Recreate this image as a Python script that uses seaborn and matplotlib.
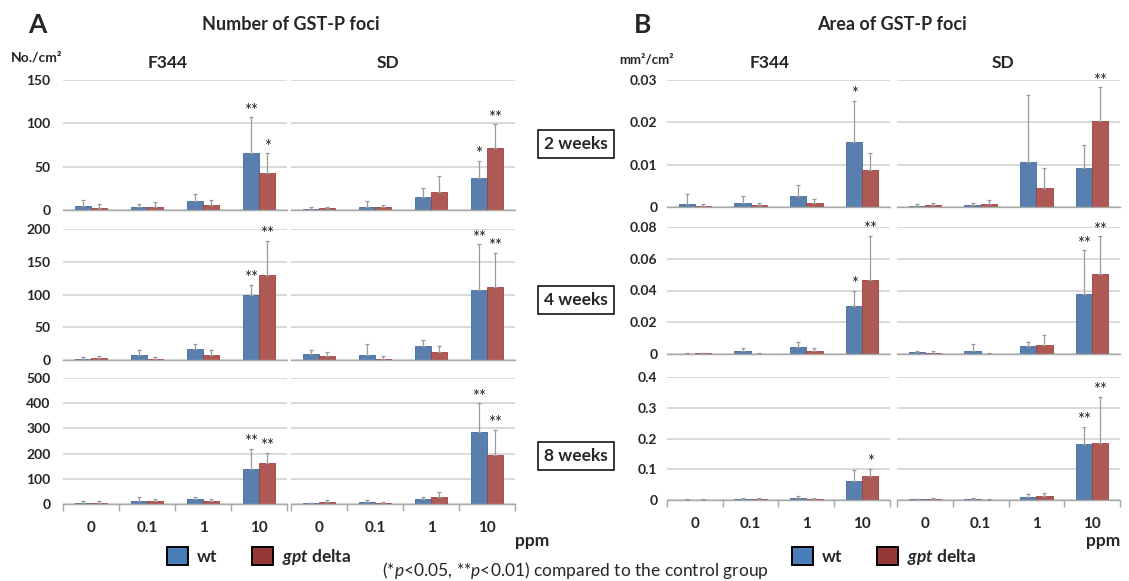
import numpy as np
import pandas as pd
import matplotlib
matplotlib.use("Agg")
import matplotlib.pyplot as plt
from matplotlib.patches import Patch
import seaborn as sns

sns.set_theme(style="white")
plt.rcParams["font.family"] = ["Lato", "DejaVu Sans"]
plt.rcParams.update({
    "mathtext.fontset": "custom",
    "mathtext.rm": "Lato",
    "mathtext.it": "Lato:italic",
    "mathtext.sf": "Lato:italic:bold",
})

W, H = 1129, 581

DOSES = ["0", "0.1", "1", "10"]
STRAINS = ["F344", "SD"]
WEEKS = ["2 weeks", "4 weeks", "8 weeks"]
GENOTYPES = ["wt", "gpt delta"]

# each row: F344 doses 0/0.1/1/10, then SD doses 0/0.1/1/10
# A: number of GST-P foci (No./cm2)
NUM_WT = [
    [5, 4, 10, 66, 1, 4, 15, 37],
    [2, 8, 17, 98.5, 9, 8, 21, 107.6],
    [5, 12, 21, 140, 2, 6, 18, 284],
]
NUM_WT_SD = [
    [6, 3, 9, 41, 3, 6, 10, 20],
    [2, 8, 8, 16, 7, 16, 9, 69],
    [7, 16, 6, 80, 3, 9, 10, 116],
]
NUM_GPT = [
    [2, 3, 6, 42.5, 2, 3, 20.5, 72],
    [3, 2, 8, 130, 6, 2, 12, 112],
    [3, 12, 12, 164, 8, 3, 28, 193],
]
NUM_GPT_SD = [
    [5, 6, 5, 23, 2, 3, 18.5, 27],
    [3, 3, 8, 52, 6, 4.5, 10, 52],
    [7, 8, 8, 38, 7, 4, 18, 101],
]
NUM_WT_SIG = [
    ["", "", "", "**", "", "", "", "*"],
    ["", "", "", "**", "", "", "", "**"],
    ["", "", "", "**", "", "", "", "**"],
]
NUM_GPT_SIG = [
    ["", "", "", "*", "", "", "", "**"],
    ["", "", "", "**", "", "", "", "**"],
    ["", "", "", "**", "", "", "", "**"],
]

# B: area of GST-P foci (mm2/cm2)
AREA_WT = [
    [0.0008, 0.001, 0.0025, 0.0153, 0.0002, 0.0005, 0.0106, 0.0091],
    [0.0003, 0.0017, 0.0044, 0.0302, 0.001, 0.0017, 0.0048, 0.0381],
    [0.001, 0.003, 0.008, 0.061, 0.002, 0.003, 0.01, 0.181],
]
AREA_WT_SD = [
    [0.0022, 0.0015, 0.0028, 0.0098, 0.0004, 0.0004, 0.0159, 0.0055],
    [0.0003, 0.0023, 0.0029, 0.0096, 0.001, 0.0048, 0.0029, 0.0271],
    [0.002, 0.003, 0.005, 0.036, 0.002, 0.004, 0.008, 0.058],
]
AREA_GPT = [
    [0.0002, 0.0004, 0.0009, 0.0087, 0.0005, 0.0006, 0.0045, 0.0204],
    [0.0005, 0.0003, 0.0017, 0.0465, 0.0008, 0.0003, 0.0057, 0.0504],
    [0.001, 0.003, 0.003, 0.077, 0.003, 0.001, 0.014, 0.184],
]
AREA_GPT_SD = [
    [0.0004, 0.0006, 0.0009, 0.0041, 0.0004, 0.001, 0.0046, 0.0079],
    [0.0003, 0.0002, 0.0023, 0.0281, 0.001, 0.0002, 0.0061, 0.0237],
    [0.002, 0.002, 0.002, 0.024, 0.002, 0.002, 0.01, 0.151],
]
AREA_WT_SIG = [
    ["", "", "", "*", "", "", "", ""],
    ["", "", "", "*", "", "", "", "**"],
    ["", "", "", "", "", "", "", "**"],
]
AREA_GPT_SIG = [
    ["", "", "", "", "", "", "", "**"],
    ["", "", "", "**", "", "", "", "**"],
    ["", "", "", "*", "", "", "", "**"],
]

NUM_YTICKS = [[0, 50, 100, 150], [0, 50, 100, 150, 200], [0, 100, 200, 300, 400, 500]]
NUM_YLABELS = [["0", "50", "100", "150"], ["0", "50", "100", "150", "200"],
               ["0", "100", "200", "300", "400", "500"]]
AREA_YTICKS = [[0, 0.01, 0.02, 0.03], [0, 0.02, 0.04, 0.06, 0.08], [0, 0.1, 0.2, 0.3, 0.4]]
AREA_YLABELS = [["0", "0.01", "0.02", "0.03"], ["0", "0.02", "0.04", "0.06", "0.08"],
                ["0", "0.1", "0.2", "0.3", "0.4"]]

BLUE = "#4A7EBB"
RED = "#BE4B48"
PALETTE = {"wt": BLUE, "gpt delta": RED}

fig = plt.figure(figsize=(W / 100, H / 100), dpi=100)


def px_axes(x0, y0, x1, y1):
    return fig.add_axes([x0 / W, 1 - y1 / H, (x1 - x0) / W, (y1 - y0) / H])


def draw_cell(ax, wt, wt_sd, gpt, gpt_sd, wt_sig, gpt_sig, yticks, ylabels,
              show_y, bottom, ypad):
    df = pd.DataFrame({
        "dose": DOSES * 2,
        "genotype": ["wt"] * 4 + ["gpt delta"] * 4,
        "value": list(wt) + list(gpt),
    })
    sns.barplot(data=df, x="dose", y="value", hue="genotype", order=DOSES,
                hue_order=GENOTYPES, palette=PALETTE, width=0.58, gap=0,
                errorbar=None, legend=False, ax=ax, zorder=2,
                linewidth=0.6, edgecolor="#555555")
    for cont, col in zip(ax.containers, [BLUE, RED]):
        for p in cont.patches:
            p.set_edgecolor(matplotlib.colors.to_hex(
                np.array(matplotlib.colors.to_rgb(col)) * 0.85))
    for cont, errs, sigs in zip(ax.containers, [wt_sd, gpt_sd], [wt_sig, gpt_sig]):
        xs = [p.get_x() + p.get_width() / 2 for p in cont.patches]
        tops = [p.get_height() for p in cont.patches]
        ax.errorbar(xs, tops, yerr=[np.zeros(len(errs)), errs], fmt="none",
                    ecolor="#9A9A9A", elinewidth=0.9, capsize=1.6,
                    capthick=0.9, zorder=3)
        for x, t, e, s in zip(xs, tops, errs, sigs):
            if s:
                ax.annotate(s, (x, t + e), xytext=(0, -1), textcoords="offset points",
                            ha="center", va="bottom", fontsize=12, color="#222222")
    ax.set_xlim(-0.5, 3.5)
    ax.set_ylim(yticks[0], yticks[-1])
    ax.set_yticks(yticks)
    ax.set_yticklabels(ylabels)
    ax.yaxis.grid(True, color="#CFCFCF", linewidth=1.1, zorder=0)
    ax.set_axisbelow(True)
    for side in ["top", "right", "left"]:
        ax.spines[side].set_visible(False)
    ax.spines["bottom"].set_color("#A8A8A8")
    ax.spines["bottom"].set_linewidth(1.0)
    ax.set_xlabel("")
    ax.set_ylabel("")
    ax.tick_params(axis="y", length=0, pad=ypad, labelleft=show_y)
    for lab in ax.get_yticklabels():
        lab.set_fontweight("bold")
        lab.set_fontsize(10)
    if bottom:
        ax.set_xticks([-0.5, 0.5, 1.5, 2.5, 3.5], minor=True)
        ax.tick_params(axis="x", which="minor", length=5, width=1,
                       color="#A8A8A8", bottom=True, direction="out")
        ax.tick_params(axis="x", which="major", length=0, pad=12, labelsize=11)
        for lab in ax.get_xticklabels():
            lab.set_fontweight("bold")
    else:
        ax.tick_params(axis="x", which="both", length=0, labelbottom=False)


A_COLS = [(63, 287), (291, 515)]
A_ROWS = [(80, 210), (229, 360), (378, 504)]
B_COLS = [(667, 890), (897, 1120)]
B_ROWS = [(80, 207), (227, 354), (377, 500)]

panels = [
    (A_COLS, A_ROWS, NUM_WT, NUM_WT_SD, NUM_GPT, NUM_GPT_SD, NUM_WT_SIG, NUM_GPT_SIG,
     NUM_YTICKS, NUM_YLABELS, 9),
    (B_COLS, B_ROWS, AREA_WT, AREA_WT_SD, AREA_GPT, AREA_GPT_SD, AREA_WT_SIG,
     AREA_GPT_SIG, AREA_YTICKS, AREA_YLABELS, 7),
]
for cols, rows, wt, wsd, gp, gsd, wsig, gsig, yt, yl, ypad in panels:
    for r, (y0, y1) in enumerate(rows):
        for c, (x0, x1) in enumerate(cols):
            ax = px_axes(x0, y0, x1, y1)
            sl = slice(4 * c, 4 * c + 4)
            draw_cell(ax, wt[r][sl], wsd[r][sl], gp[r][sl], gsd[r][sl],
                      wsig[r][sl], gsig[r][sl], yt[r], yl[r],
                      show_y=(c == 0), bottom=(r == 2), ypad=ypad)


def ftext(x, y, s, **kw):
    kw.setdefault("ha", "center")
    kw.setdefault("va", "center")
    fig.text(x / W, 1 - y / H, s, **kw)


ftext(37, 25, "A", fontsize=19, fontweight="bold")
ftext(643, 25, "B", fontsize=19, fontweight="bold")
ftext(291, 24, "Number of GST-P foci", fontsize=13, fontweight="bold")
ftext(892, 24, "Area of GST-P foci", fontsize=13, fontweight="bold")
ftext(37, 57, "No./cm²", fontsize=10, fontweight="bold")
ftext(647, 59, "mm²/cm²", fontsize=9.5, fontweight="bold")
for x, s in [(168, "F344"), (388, "SD"), (770, "F344"), (1003, "SD")]:
    ftext(x, 63, s, fontsize=12.5, fontweight="bold")
ftext(532, 541, "ppm", fontsize=12.5, fontweight="bold")
ftext(1103, 541, "ppm", fontsize=12.5, fontweight="bold")

for y, s in zip([144, 300, 456], WEEKS):
    ftext(576, y, s, fontsize=12.5, fontweight="bold",
          bbox=dict(boxstyle="square,pad=0.35", fc="white", ec="black", lw=1.1))

handles = [Patch(facecolor=BLUE, edgecolor="black", linewidth=1.4),
           Patch(facecolor="#953735", edgecolor="black", linewidth=1.4)]
labels = ["wt", r"$\mathsf{gpt}$ delta"]
for cx in [259, 884]:
    fig.legend(handles, labels, loc="center", bbox_to_anchor=(cx / W, 1 - 557 / H),
               ncol=2, frameon=False, prop={"weight": "bold", "size": 12.5},
               handlelength=1.2, handleheight=1.2, handletextpad=0.5,
               columnspacing=2.0)

ftext(575, 576, r"(*$\mathit{p}$<0.05, **$\mathit{p}$<0.01) compared to the control group",
      fontsize=12.5, va="baseline")

fig.savefig("out.png", dpi=100)
